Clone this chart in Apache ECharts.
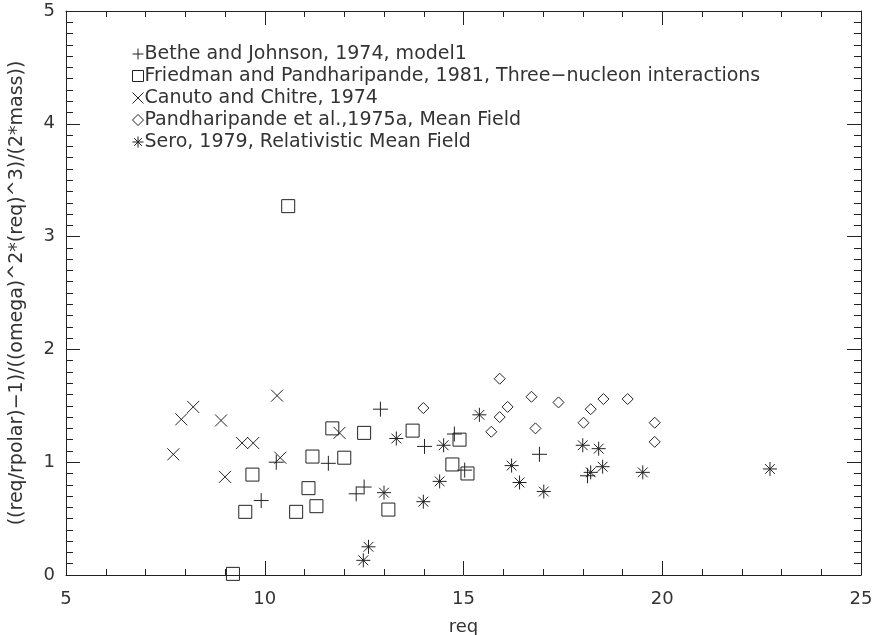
<!DOCTYPE html>
<html>
<head>
<meta charset="utf-8">
<script src="https://cdn.jsdelivr.net/npm/echarts@6/dist/echarts.min.js"></script>
<style>
  html, body { margin: 0; padding: 0; background: #fff; }
  #chart { width: 873px; height: 635px; }
</style>
</head>
<body>
<div id="chart"></div>
<script>
// data
var betheX = [9.91, 10.29, 11.6, 12.3, 12.5, 12.91, 14.02, 14.77, 15.03, 16.91, 18.12];
var betheY = [0.66, 1.00, 0.99, 0.72, 0.78, 1.47, 1.14, 1.25, 0.93, 1.07, 0.88];

var friedmanX = [9.2, 9.51, 9.69, 10.59, 10.79, 11.1, 11.2, 11.3, 11.7, 12.0, 12.5, 13.11, 13.72, 14.72, 14.9, 15.1];
var friedmanY = [0.01, 0.56, 0.89, 3.27, 0.56, 0.77, 1.05, 0.61, 1.30, 1.04, 1.26, 0.58, 1.28, 0.98, 1.20, 0.90];

var canutoX = [7.70, 7.9, 8.2, 8.9, 9.0, 9.43, 9.71, 10.31, 10.39, 11.88];
var canutoY = [1.07, 1.38, 1.49, 1.37, 0.87, 1.17, 1.17, 1.59, 1.04, 1.26];

var pandX = [13.99, 15.7, 15.91, 15.91, 16.11, 16.71, 16.81, 17.39, 18.02, 18.2, 18.52, 19.13, 19.81, 19.81];
var pandY = [1.48, 1.27, 1.40, 1.74, 1.49, 1.58, 1.30, 1.53, 1.35, 1.47, 1.56, 1.56, 1.35, 1.18];

var seroX = [12.48, 12.61, 13.0, 13.31, 13.99, 14.4, 14.5, 15.4, 16.21, 16.41, 17.02, 18.0, 18.2, 18.4, 18.5, 19.51, 22.71];
var seroY = [0.13, 0.25, 0.73, 1.21, 0.65, 0.83, 1.15, 1.42, 0.97, 0.82, 0.74, 1.15, 0.91, 1.12, 0.96, 0.91, 0.94];

var seriesNames = [
  'Bethe and Johnson, 1974, model1',
  'Friedman and Pandharipande, 1981, Three\u2212nucleon interactions',
  'Canuto and Chitre, 1974',
  'Pandharipande et al.,1975a, Mean Field',
  'Sero, 1979, Relativistic Mean Field'
];

function zip(xs, ys) {
  return xs.map(function (x, i) { return [x, ys[i]]; });
}

var font = 'DejaVu Sans';
var ink = '#222';
var textInk = '#333';

// hollow symbols, stroked only
var plusPath = 'path://M0,5L10,5M5,0L5,10';
var crossPath = 'path://M0,0L10,10M10,0L0,10';
var starPath = 'path://M0,5L10,5M5,0L5,10M1.5,1.5L8.5,8.5M8.5,1.5L1.5,8.5';

function mk(name, data, symbol, size) {
  return {
    name: name,
    type: 'scatter',
    data: data,
    symbol: symbol,
    symbolSize: size,
    clip: false,
    itemStyle: { color: 'rgba(0,0,0,0)', borderColor: ink, borderWidth: 1, opacity: 1 },
    emphasis: { disabled: true }
  };
}

var tickStyle = { inside: true, length: 14, lineStyle: { color: ink } };
var minorX = { show: true, splitNumber: 5, length: 6, lineStyle: { color: ink } };
var minorY = { show: true, splitNumber: 10, length: 7, lineStyle: { color: ink } };

var chart = echarts.init(document.getElementById('chart'));
var option = {
  animation: false,
  grid: { left: 66, right: 12, top: 11, bottom: 60, containLabel: false, outerBoundsMode: 'none' },
  legend: {
    orient: 'vertical',
    left: 127,
    top: 38,
    itemWidth: 11,
    itemHeight: 11,
    itemGap: 0,
    itemStyle: { color: 'rgba(0,0,0,0)', borderColor: ink, borderWidth: 1 },
    textStyle: { fontFamily: font, fontSize: 19, lineHeight: 22, color: textInk, padding: [0, 0, 0, -4] },
    data: seriesNames
  },
  xAxis: [{
    type: 'value', min: 5, max: 25, interval: 5,
    name: 'req', nameLocation: 'middle', nameGap: 43,
    nameTextStyle: { fontFamily: font, fontSize: 18, color: textInk },
    axisLine: { onZero: false, lineStyle: { color: ink } },
    axisTick: tickStyle, minorTick: minorX,
    splitLine: { show: false },
    axisLabel: { fontFamily: font, fontSize: 18, color: textInk, margin: 15 }
  }, {
    type: 'value', min: 5, max: 25, interval: 5, position: 'top',
    axisLine: { onZero: false, lineStyle: { color: ink } },
    axisTick: tickStyle, minorTick: minorX,
    splitLine: { show: false }, axisLabel: { show: false }
  }],
  yAxis: [{
    type: 'value', min: 0, max: 5, interval: 1,
    name: '((req/rpolar)\u22121)/((omega)^2*(req)^3)/(2*mass))',
    nameLocation: 'middle', nameGap: 39,
    nameTextStyle: { fontFamily: font, fontSize: 19, color: textInk },
    axisLine: { onZero: false, lineStyle: { color: ink } },
    axisTick: tickStyle, minorTick: minorY,
    splitLine: { show: false },
    axisLabel: { fontFamily: font, fontSize: 18, color: textInk, margin: 11 }
  }, {
    type: 'value', min: 0, max: 5, interval: 1, position: 'right',
    axisLine: { onZero: false, lineStyle: { color: ink } },
    axisTick: tickStyle, minorTick: minorY,
    splitLine: { show: false }, axisLabel: { show: false }
  }],
  series: [
    mk(seriesNames[0], zip(betheX, betheY), plusPath, 15),
    mk(seriesNames[1], zip(friedmanX, friedmanY), 'rect', 13),
    mk(seriesNames[2], zip(canutoX, canutoY), crossPath, 12),
    mk(seriesNames[3], zip(pandX, pandY), 'diamond', 11),
    mk(seriesNames[4], zip(seroX, seroY), starPath, 14)
  ]
};
chart.setOption(option);
</script>
</body>
</html>
